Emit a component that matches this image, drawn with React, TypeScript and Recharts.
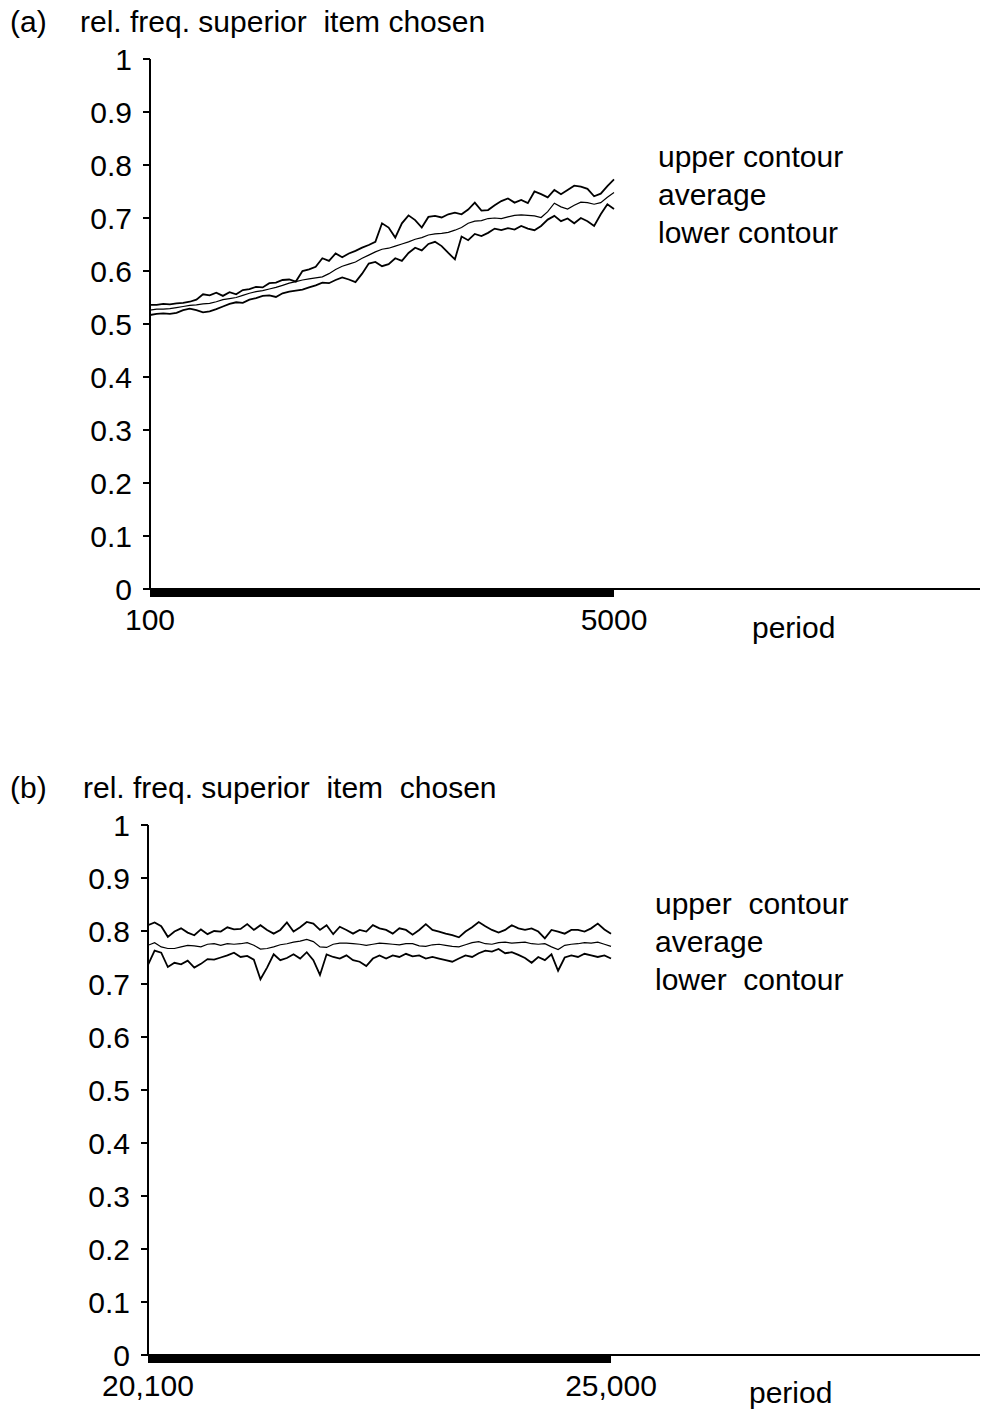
import { LineChart, Line, XAxis, YAxis, ReferenceArea } from "recharts";

const FONT = '"Liberation Sans", Arial, sans-serif';
const FS = 30;

// x grid: every 70 periods across the observed window
const stepA = 70;
const periodsA = Array.from({ length: 71 }, (_, i) => 100 + i * stepA);
const periodsB = Array.from({ length: 71 }, (_, i) => 20100 + i * stepA);

const yTicks = [0, 0.1, 0.2, 0.3, 0.4, 0.5, 0.6, 0.7, 0.8, 0.9, 1];
const xTicksA = [100, 5000];
const xTicksB = [20100, 25000];

const upperA = [
  0.536, 0.536, 0.538, 0.537, 0.539, 0.54, 0.542, 0.546, 0.556, 0.554,
  0.559, 0.553, 0.56, 0.556, 0.564, 0.566, 0.57, 0.569, 0.577, 0.578,
  0.583, 0.584, 0.58, 0.6, 0.603, 0.608, 0.624, 0.619, 0.633, 0.626,
  0.633, 0.638, 0.644, 0.649, 0.655, 0.69, 0.682, 0.663, 0.69, 0.705,
  0.696, 0.682, 0.702, 0.704, 0.701, 0.707, 0.71, 0.707, 0.716, 0.729,
  0.714, 0.715, 0.724, 0.732, 0.737, 0.729, 0.734, 0.728, 0.75, 0.745,
  0.739, 0.753, 0.745, 0.753, 0.761, 0.759, 0.755, 0.741, 0.746, 0.76,
  0.773,
];
const averageA = [
  0.526, 0.528, 0.528, 0.529, 0.531, 0.533, 0.535, 0.536, 0.538, 0.539,
  0.542, 0.546, 0.548, 0.55, 0.554, 0.558, 0.561, 0.563, 0.566, 0.569,
  0.573, 0.577, 0.58, 0.583, 0.585, 0.587, 0.589, 0.595, 0.603, 0.609,
  0.613, 0.617, 0.624, 0.63, 0.636, 0.641, 0.643, 0.647, 0.651, 0.655,
  0.66, 0.663, 0.668, 0.67, 0.671, 0.673, 0.677, 0.682, 0.69, 0.694,
  0.695, 0.699, 0.7, 0.699, 0.702, 0.705, 0.706, 0.705, 0.704, 0.701,
  0.712, 0.728, 0.721, 0.717, 0.724, 0.73, 0.729, 0.726, 0.729, 0.739,
  0.748,
];
const lowerA = [
  0.517, 0.519, 0.52, 0.519, 0.521, 0.526, 0.529, 0.526, 0.522, 0.524,
  0.528, 0.533, 0.538, 0.541, 0.54, 0.546, 0.549, 0.553, 0.554, 0.551,
  0.558, 0.561, 0.563, 0.565, 0.569, 0.573, 0.578, 0.577, 0.583, 0.588,
  0.584, 0.579, 0.595, 0.614, 0.617, 0.609, 0.613, 0.624, 0.619, 0.634,
  0.644, 0.639, 0.651, 0.655, 0.647, 0.634, 0.622, 0.665, 0.658, 0.67,
  0.666, 0.672, 0.68, 0.677, 0.681, 0.678, 0.685, 0.68, 0.677, 0.685,
  0.697, 0.704, 0.694, 0.699, 0.69, 0.7, 0.694, 0.685, 0.707, 0.726,
  0.717,
];

const upperB = [
  0.811, 0.816, 0.809, 0.789, 0.799, 0.805, 0.797, 0.792, 0.803, 0.794,
  0.8, 0.799, 0.807, 0.803, 0.804, 0.813, 0.802, 0.811, 0.802, 0.795,
  0.802, 0.816, 0.799, 0.807, 0.817, 0.814, 0.802, 0.811, 0.794, 0.808,
  0.802, 0.795, 0.802, 0.799, 0.811, 0.805, 0.802, 0.795, 0.805, 0.802,
  0.793, 0.802, 0.813, 0.802, 0.799, 0.795, 0.792, 0.788, 0.799, 0.807,
  0.817, 0.809, 0.802, 0.797, 0.802, 0.811, 0.805, 0.802, 0.805, 0.799,
  0.786, 0.802, 0.799, 0.795, 0.802, 0.802, 0.799, 0.805, 0.814, 0.803,
  0.795,
];
const averageB = [
  0.773, 0.778, 0.77, 0.767, 0.767, 0.77, 0.773, 0.772, 0.77, 0.775,
  0.776, 0.773, 0.776, 0.775, 0.776, 0.778, 0.773, 0.766, 0.767, 0.77,
  0.774, 0.776, 0.779, 0.781, 0.784, 0.78, 0.77, 0.769, 0.775, 0.777,
  0.777, 0.776, 0.775, 0.773, 0.775, 0.777, 0.776, 0.775, 0.774, 0.776,
  0.776, 0.772, 0.771, 0.774, 0.775, 0.773, 0.771, 0.77, 0.774, 0.778,
  0.78, 0.776, 0.775, 0.778, 0.779, 0.777, 0.778, 0.779, 0.776, 0.775,
  0.776, 0.77, 0.765, 0.773, 0.775, 0.776, 0.778, 0.777, 0.779, 0.775,
  0.771,
];
const lowerB = [
  0.736, 0.763, 0.759, 0.732, 0.74, 0.737, 0.744, 0.731, 0.738, 0.747,
  0.746, 0.75, 0.754, 0.759, 0.751, 0.753, 0.746, 0.709, 0.731, 0.756,
  0.745, 0.749, 0.756, 0.748, 0.76, 0.745, 0.717, 0.756, 0.751, 0.748,
  0.754, 0.745, 0.742, 0.734, 0.748, 0.754, 0.748, 0.754, 0.751, 0.757,
  0.752, 0.754, 0.748, 0.751, 0.748, 0.745, 0.742, 0.748, 0.754, 0.751,
  0.758, 0.763, 0.761, 0.766, 0.758, 0.76, 0.755, 0.749, 0.74, 0.751,
  0.745, 0.756, 0.725, 0.75, 0.754, 0.751, 0.757, 0.754, 0.751, 0.754,
  0.748,
];

const rowsA = periodsA.map((p, i) => ({ period: p, upper: upperA[i], average: averageA[i], lower: lowerA[i] }));
const rowsB = periodsB.map((p, i) => ({ period: p, upper: upperB[i], average: averageB[i], lower: lowerB[i] }));

const txt = (left: number, centerY: number, s: string) => (
  <div
    style={{
      position: "absolute",
      left,
      top: centerY - 17,
      lineHeight: "34px",
      fontSize: FS,
      fontFamily: FONT,
      color: "#000",
      whiteSpace: "pre",
    }}
  >
    {s}
  </div>
);

type PanelProps = {
  rows: any[];
  top: number;
  height: number;
  plotLeft: number;
  xDomain: [number, number];
  xTicks: number[];
  fmt: (v: number) => string;
};

const Panel = ({ rows, top, height, plotLeft, xDomain, xTicks, fmt }: PanelProps) => {
  const axisH = 50;
  return (
    <div style={{ position: "absolute", left: 0, top }}>
      <LineChart
        width={981}
        height={height}
        data={rows}
        margin={{ top: 59, right: 1, bottom: height - 59 - 530 - axisH, left: plotLeft - 60 }}
      >
        <XAxis
          dataKey="period"
          type="number"
          domain={xDomain}
          ticks={xTicks}
          interval={0}
          allowDataOverflow
          height={axisH}
          tickLine={false}
          tickMargin={14}
          tickFormatter={fmt}
          axisLine={{ stroke: "#000", strokeWidth: 2 }}
          tick={{ fill: "#000", fontSize: FS, fontFamily: FONT }}
        />
        <YAxis
          domain={[0, 1]}
          ticks={yTicks}
          interval={0}
          width={60}
          tickSize={7}
          tickMargin={11}
          tickFormatter={(v: number) => String(v)}
          axisLine={{ stroke: "#000", strokeWidth: 2 }}
          tickLine={{ stroke: "#000", strokeWidth: 2 }}
          tick={{ fill: "#000", fontSize: FS, fontFamily: FONT }}
        />
        <ReferenceArea
          x1={rows[0].period}
          x2={rows[rows.length - 1].period}
          y1={-0.0151}
          y2={0}
          fill="#000"
          fillOpacity={1}
          stroke="none"
          ifOverflow="visible"
        />
        <Line type="linear" dataKey="upper" stroke="#000" strokeWidth={1.8} dot={false} isAnimationActive={false} />
        <Line type="linear" dataKey="average" stroke="#000" strokeWidth={1.2} dot={false} isAnimationActive={false} />
        <Line type="linear" dataKey="lower" stroke="#000" strokeWidth={1.8} dot={false} isAnimationActive={false} />
      </LineChart>
    </div>
  );
};

export default function App() {
  return (
    <div style={{ position: "absolute", left: 0, top: 0, width: 981, height: 1414, overflow: "hidden", background: "#fff" }}>
      <Panel
        rows={rowsA}
        top={0}
        height={700}
        plotLeft={150}
        xDomain={[100, 8865]}
        xTicks={xTicksA}
        fmt={(v) => String(v)}
      />
      <Panel
        rows={rowsB}
        top={766}
        height={648}
        plotLeft={148}
        xDomain={[20100, 28905]}
        xTicks={xTicksB}
        fmt={(v) => v.toLocaleString("en-US")}
      />
      {txt(10, 22, "(a)")}
      {txt(80, 22, "rel. freq. superior  item chosen")}
      {txt(658, 157, "upper contour")}
      {txt(658, 195, "average")}
      {txt(658, 233, "lower contour")}
      {txt(752, 628, "period")}
      {txt(10, 788, "(b)")}
      {txt(83, 788, "rel. freq. superior  item  chosen")}
      {txt(655, 904, "upper  contour")}
      {txt(655, 942, "average")}
      {txt(655, 980, "lower  contour")}
      {txt(749, 1393, "period")}
    </div>
  );
}
